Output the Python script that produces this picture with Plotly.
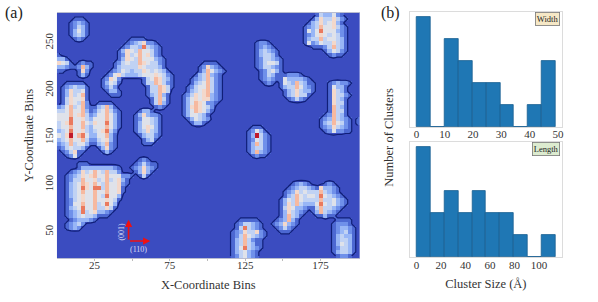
import plotly.graph_objects as go
import numpy as np

# ---------- data ----------
N_ROWS, N_COLS = 61, 75
# each entry: (row from the top, first column, intensity levels 1-9 along the row)
cluster_a = [(1,4,"111"),(2,3,"12321"),(3,3,"12431"),(4,3,"13531"),(5,3,"13431"),(6,4,"121")]
cluster_b = [(10,0,"1"),(11,0,"331"),(12,0,"6541"),(13,0,"3321"),(14,0,"11")]
cluster_c = [(12,5,"1211"),(13,4,"12731"),(14,5,"162"),(15,5,"131")]
cluster_d = [(6,18,"1111"),(7,17,"12346221"),(8,16,"1244384321"),(9,15,"13654755421"),
    (10,15,"12645756421"),(11,15,"136547555321"),(12,14,"1245447654421"),(13,14,"1344446544431"),
    (14,13,"123543446545431"),(15,12,"12564333455565421"),(16,11,"12652"),(16,21,"14576431"),
    (17,11,"13541"),(17,21,"14476421"),(18,11,"1242"),(18,22,"1447641"),(19,12,"1331"),(19,22,"144764"),
    (20,13,"111"),(20,22,"134731"),(21,23,"14741"),(22,23,"14731"),(23,24,"121")]
cluster_e = [(17,2,"11111"),(18,1,"1234331"),(19,1,"1364451"),(20,1,"1364571"),(21,1,"1465561"),
    (22,1,"1465472"),(22,10,"1111"),(23,0,"235745721134731"),(24,0,"4457557312457421"),
    (25,0,"5557567423557531"),(26,0,"5558556435557531"),(27,0,"4568557546558531"),
    (28,0,"4557557435557531"),(29,0,"345855643456842"),(30,0,"546957853355731"),
    (31,0,"345755742245631"),(32,0,"234745531134721"),(33,0,"12454431"),(33,10,"13621"),
    (34,1,"124611"),(34,11,"131"),(35,2,"1251")]
cluster_f = [(24,20,"1331"),(25,19,"1363221"),(26,19,"1255431"),(27,19,"1355431"),(28,19,"1356531"),
    (29,19,"1346431"),(30,20,"134421"),(31,21,"1341"),(32,21,"111")]
cluster_g = [(36,20,"121"),(37,19,"124211"),(38,18,"1236321"),(39,19,"13631"),(40,20,"141")]
cluster_h = [(37,5,"111"),(38,5,"13333333321"),(39,3,"1236457547442"),(40,2,"12346567557555221"),
    (41,2,"1244755645745631"),(42,2,"1345765754755621"),(43,2,"134586588475561"),
    (44,2,"134575575575561"),(45,2,"13456557548553"),(46,2,"12456557556541"),(47,2,"1255755745853"),
    (48,2,"1345855744641"),(49,2,"123484563321"),(50,2,"12345443111"),(51,3,"1233321"),
    (52,2,"12342"),(53,2,"1232")]
cluster_j = [(12,36,"1111"),(13,35,"126321"),(14,35,"1375321"),(15,34,"1347321"),(16,33,"12347421"),
    (17,33,"13457421"),(18,32,"124557421"),(19,32,"134567421"),(20,31,"1246567321"),(21,31,"1356566321"),
    (22,31,"135765221"),(23,31,"13676542"),(24,31,"13576531"),(25,31,"1355431"),(26,32,"135432"),(27,33,"1331")]
cluster_k = [(7,49,"1221"),(8,49,"12321"),(9,49,"134321"),(10,49,"134431"),(11,49,"1244321"),
    (12,49,"1245541"),(13,49,"1244321"),(14,50,"124531"),(15,50,"12431"),(16,50,"12321"),(17,51,"121")]
cluster_l = [(15,55,"112221"),(16,55,"15333321"),(17,55,"154374311"),(18,55,"134475321"),
    (19,56,"13464331"),(20,56,"1346441"),(21,57,"12421")]
cluster_m = [(0,64,"1433521"),(1,63,"136446421"),(2,62,"134645631"),(3,61,"12347556421"),
    (4,61,"15358555321"),(5,61,"12356545421"),(6,61,"13447455431"),(7,61,"15235446431"),
    (8,63,"11"),(8,65,"1247431"),(9,66,"135421"),(10,67,"1211")]
cluster_n = [(17,67,"123221"),(18,67,"15331"),(19,67,"16431"),(20,67,"164421"),(21,67,"16431"),
    (22,67,"16441"),(23,67,"17431"),(24,67,"17441"),(25,66,"127431"),(26,65,"12374321"),
    (27,65,"13475421"),(28,65,"12364321"),(29,66,"1252211"),(26,74,"1"),(27,74,"1")]
cluster_o = [(28,48,"111"),(29,47,"12531"),(30,47,"139421"),(31,47,"125421"),(32,47,"137421"),
    (33,47,"134421"),(34,47,"137321"),(35,48,"1211")]
cluster_p = [(51,45,"11111"),(52,44,"1244321"),(53,44,"1484321"),(54,43,"123644621"),(55,43,"124754321"),
    (56,43,"13474211"),(57,43,"13474311"),(58,43,"13584321"),(59,43,"1345321"),(60,43,"1245321")]
cluster_q = [(42,58,"12321"),(42,66,"121"),(43,57,"12344321"),(43,65,"63321"),(44,56,"12364544474321"),
    (45,56,"134754554854321"),(46,55,"13547544447445321"),(47,55,"13647433358545321"),
    (48,55,"14653321"),(48,63,"14744321"),(49,55,"1364321"),(49,63,"1374321"),(50,55,"137431"),
    (50,64,"11311"),(51,54,"123731"),(52,53,"1236321"),(53,54,"12421"),(54,55,"111")]
cluster_r = [(51,69,"1111"),(52,68,"12221"),(53,68,"123321"),(54,68,"123421"),(55,68,"134331"),
    (56,68,"134431"),(57,68,"135431"),(58,68,"124431"),(59,68,"134431"),(60,69,"1221")]
all_clusters = [cluster_a, cluster_b, cluster_c, cluster_d, cluster_e, cluster_f, cluster_g, cluster_h,
                cluster_j, cluster_k, cluster_l, cluster_m, cluster_n, cluster_o, cluster_p, cluster_q, cluster_r]

width_edges = [0, 4.93, 9.86, 14.79, 19.72, 24.65, 29.58, 34.51, 39.44, 44.37, 49.3]
width_counts = [5, 0, 4, 3, 2, 2, 1, 0, 1, 3]
length_edges = [0, 11.35, 22.7, 34.05, 45.4, 56.75, 68.1, 79.45, 90.8, 102.15, 113.5]
length_counts = [5, 2, 3, 2, 3, 2, 2, 1, 0, 1]

# ---------- assemble ----------
z = np.zeros((N_ROWS, N_COLS))
for cl in all_clusters:
    for r, c, s in cl:
        for i, ch in enumerate(s):
            if c + i < N_COLS:
                z[r, c + i] = int(ch)

X0, X1, Y0, Y1 = 0.0, 201.0, 22.5, 281.5
dx = (X1 - X0) / N_COLS
dy = (Y1 - Y0) / N_ROWS
xs = X0 + dx * (np.arange(N_COLS) + 0.5)
ys = Y1 - dy * (np.arange(N_ROWS) + 0.5)

W, H = 598, 302
def dom_x(a, b): return [a / W, b / W]
def dom_y(top, bot): return [1 - bot / H, 1 - top / H]

SERIF = "Liberation Serif, Times New Roman, serif"
INK = "#333333"
fig = go.Figure()
fig.add_trace(go.Heatmap(x=xs, y=ys, z=z, zmin=0, zmax=9, showscale=False, hoverinfo="skip",
    colorscale=[[0, "#3b4cc0"], [1/9, "#4c68d2"], [2/9, "#6f90ea"], [3/9, "#98b6f6"], [4/9, "#c0d2f4"],
                [5/9, "#dfe2ea"], [6/9, "#f3d8cb"], [7/9, "#f6b9a0"], [8/9, "#ea7a5e"], [1, "#c01a2a"]]))
fig.add_trace(go.Contour(x=xs, y=ys, z=z, showscale=False, hoverinfo="skip",
    contours=dict(coloring="none", start=0.5, end=0.5, size=1),
    line=dict(color="#101f78", width=1.2, smoothing=0)))

bar_line = dict(color="#195f90", width=0.8)
def bars(edges, counts, xa, ya):
    e = np.array(edges)
    return go.Bar(x=e[:-1], y=counts, width=np.diff(e), offset=0, marker=dict(color="#1f77b4", line=bar_line),
                  xaxis=xa, yaxis=ya, showlegend=False)
fig.add_trace(bars(width_edges, width_counts, "x2", "y2"))
fig.add_trace(bars(length_edges, length_counts, "x3", "y3"))

tick_font = dict(family=SERIF, size=11, color=INK)
title_font = dict(family=SERIF, size=12.5, color=INK)
frame = "#dcdcdc"
fig.update_layout(
    width=W, height=H, autosize=False, margin=dict(l=0, r=0, t=0, b=0), paper_bgcolor="white",
    plot_bgcolor="white", bargap=0, showlegend=False,
    xaxis=dict(domain=dom_x(57, 361), range=[X0, X1], tickmode="array",
               tickvals=[25, 50, 75, 100, 125, 150, 175], ticktext=["25", "", "75", "", "125", "", "175"],
               ticks="outside", ticklen=2, tickwidth=0.6, tickcolor="#bbbbbb", tickfont=tick_font, ticklabelstandoff=-5,
               showline=True, linecolor="#b8bcd0", linewidth=1, mirror=True, showgrid=False, zeroline=False,
               title=dict(text="X-Coordinate Bins", font=title_font, standoff=10)),
    yaxis=dict(domain=dom_y(13, 258), range=[Y0, Y1], tickmode="array", tickvals=[50, 100, 150, 200, 250],
               tickangle=-90, ticks="", tickfont=tick_font, ticklabelstandoff=1, showline=False, showgrid=False,
               zeroline=False, title=dict(text="Y-Coordinate Bins", font=title_font, standoff=6)),
    xaxis2=dict(domain=dom_x(411, 564), range=[-2.47, 51.5], anchor="y2", tickvals=[0, 10, 20, 30, 40, 50],
                ticks="", tickfont=tick_font, ticklabelstandoff=-3, showline=True, linecolor=frame, mirror=True,
                showgrid=False, zeroline=False),
    yaxis2=dict(domain=dom_y(12, 127), range=[0, 5.24], anchor="x2", showticklabels=False, ticks="",
                showline=True, linecolor=frame, mirror=True, showgrid=False, zeroline=False),
    xaxis3=dict(domain=dom_x(411, 564), range=[-5.7, 118.9], anchor="y3", tickvals=[0, 20, 40, 60, 80, 100],
                ticks="", tickfont=tick_font, ticklabelstandoff=-2, showline=True, linecolor=frame, mirror=True,
                showgrid=False, zeroline=False,
                title=dict(text="Cluster Size (Å)", font=title_font, standoff=9)),
    yaxis3=dict(domain=dom_y(142, 257), range=[0, 5.24], anchor="x3", showticklabels=False, ticks="",
                showline=True, linecolor=frame, mirror=True, showgrid=False, zeroline=False),
)

def paper(text, px, py, size=12.5, **kw):
    fig.add_annotation(xref="paper", yref="paper", x=px / W, y=1 - py / H, text=text, showarrow=False,
                       xanchor="center", yanchor="middle",
                       font=dict(family=SERIF, size=size, color=kw.pop("color", INK)), **kw)
paper("(a)", 14, 13, size=16, color="#222222")
paper("(b)", 392, 13, size=16, color="#222222")
paper("Number of Clusters", 390, 137, textangle=-90)

# axis-direction arrows, data coordinates of the heatmap
OX, OY = 47.6, 40.4
AX_X, AX_Y = 62.0, 63.0
for (tx, ty) in [(AX_X, OY), (OX, AX_Y)]:
    fig.add_annotation(xref="x", yref="y", axref="x", ayref="y", x=tx, y=ty, ax=OX, ay=OY, text="", showarrow=True,
                       arrowhead=2, arrowsize=0.9, arrowwidth=1.6, arrowcolor="#f01010")
fig.add_annotation(xref="x", yref="y", x=54, y=32, text="(110)", showarrow=False,
                   font=dict(family=SERIF, size=8, color="#d8dcf4"))
fig.add_annotation(xref="x", yref="y", x=43, y=50, text="(001)", showarrow=False, textangle=-90,
                   font=dict(family=SERIF, size=8, color="#d8dcf4"))

for text, ax, ay, bg in [("Width", "x2", "y2", "#f6e8c6"), ("Length", "x3", "y3", "#dcebcf")]:
    fig.add_annotation(xref=ax + " domain", yref=ay + " domain", x=0.985, y=1.0, xanchor="right", yanchor="top",
                       text=text, showarrow=False, font=dict(family=SERIF, size=8.5, color="#222222"),
                       bgcolor=bg, bordercolor="#777777", borderwidth=0.8, borderpad=1)

fig.write_html("out.html", config=dict(displayModeBar=False), post_script="document.body.style.margin='0';")
